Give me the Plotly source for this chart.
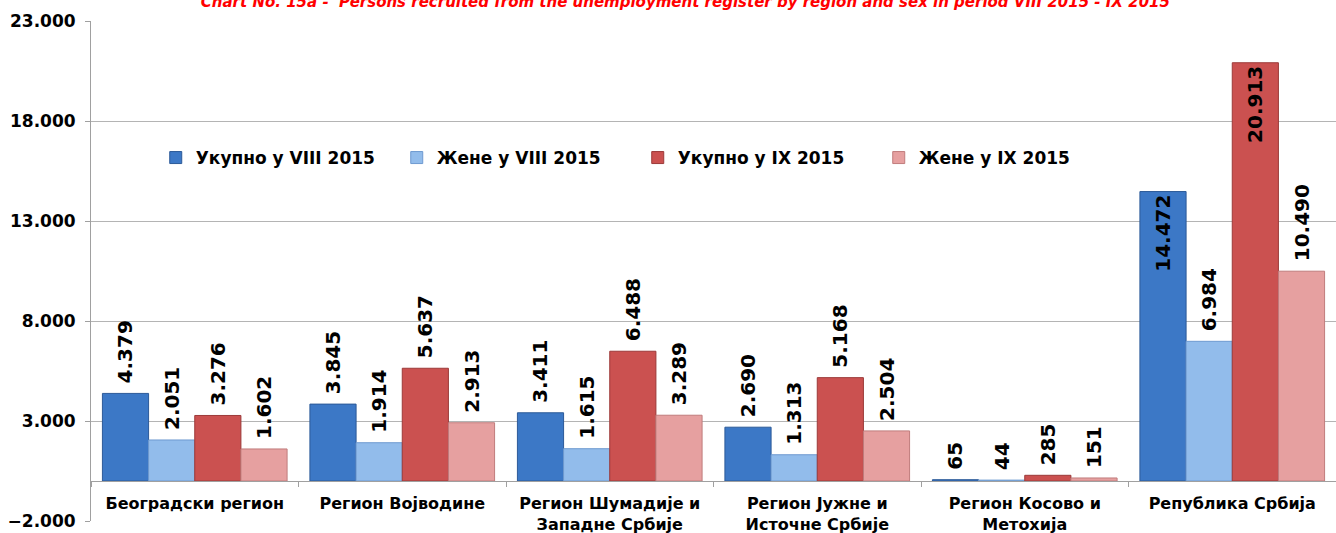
import plotly.graph_objects as go

categories = ["Београдски регион", "Регион Војводине", "Регион Шумадије и<br>Западне Србије",
              "Регион Јужне и<br>Источне Србије", "Регион Косово и<br>Метохија", "Република Србија"]
series_names = ["Укупно у VIII 2015", "Жене у VIII 2015", "Укупно у IX 2015", "Жене у IX 2015"]
total_viii = [4379, 3845, 3411, 2690, 65, 14472]
women_viii = [2051, 1914, 1615, 1313, 44, 6984]
total_ix = [3276, 5637, 6488, 5168, 285, 20913]
women_ix = [1602, 2913, 3289, 2504, 151, 10490]
y_ticks = [-2000, 3000, 8000, 13000, 18000, 23000]
title_text = "Chart No. 15a -  Persons recruited from the unemployment register by region and sex in period VIII 2015 - IX 2015"

colors = ["#3C78C6", "#92BCEB", "#CB5150", "#E6A0A0"]
edges = ["#2C5A98", "#6E9AD0", "#9C3A39", "#C07C7C"]
series = [total_viii, women_viii, total_ix, women_ix]

FONT = "DejaVu Sans, sans-serif"
fig = go.Figure()
for name, vals, c, e in zip(series_names, series, colors, edges):
    pos = ["inside" if v > 14000 else "outside" for v in vals]
    fig.add_trace(go.Bar(
        name=name, x=categories, y=vals,
        marker=dict(color=c, line=dict(color=e, width=1)),
        text=vals, texttemplate="\u00a0%{y:,d}", textposition=pos, textangle=-90,
        insidetextanchor="end", constraintext="none", cliponaxis=False,
        textfont=dict(family=FONT, size=20, color="black", weight="bold"),
        insidetextfont=dict(family=FONT, size=20, color="black", weight="bold"),
        outsidetextfont=dict(family=FONT, size=20, color="black", weight="bold"),
    ))

y0, y1 = y_ticks[0], y_ticks[-1]
fig.update_layout(
    width=1336, height=533,
    margin=dict(l=91, r=0, t=21, b=12, autoexpand=False),
    plot_bgcolor="white", paper_bgcolor="white",
    separators=",.",
    barmode="group", bargap=0.11, bargroupgap=0,
    font=dict(family=FONT, color="black"),
    title=dict(text=title_text, x=0.513, xanchor="center", xref="container",
               y=1 - 1.5 / 533, yanchor="middle", yref="container",
               font=dict(family=FONT, size=15, color="#FF0000", weight="bold", style="italic")),
    legend=dict(orientation="h", x=0.052, xanchor="left", y=0.726, yanchor="middle",
                font=dict(family=FONT, size=17, weight="bold"),
                entrywidth=196, entrywidthmode="pixels", bgcolor="rgba(0,0,0,0)",
                itemclick=False, itemwidth=30),
    yaxis=dict(range=[y0, y1], tickvals=y_ticks, tickformat=",d", automargin=False,
               showgrid=True, gridcolor="#B4B4B4", gridwidth=1,
               zeroline=False, showline=True, linecolor="#A0A0A0", linewidth=1,
               tickfont=dict(family=FONT, size=17, weight="bold"), ticks="outside",
               ticklen=5, tickcolor="#A0A0A0", ticklabelstandoff=6),
    xaxis=dict(anchor="free", position=(0 - y0) / (y1 - y0), automargin=False,
               showline=True, linecolor="#A0A0A0", linewidth=1,
               ticks="outside", tickson="boundaries", ticklen=5, tickcolor="#A0A0A0",
               showgrid=False, ticklabelstandoff=8,
               tickfont=dict(family=FONT, size=16, weight="bold")),
)
fig.write_html("out.html", config={"displayModeBar": False},
               post_script="document.body.style.margin='0';document.body.style.overflow='hidden';")
